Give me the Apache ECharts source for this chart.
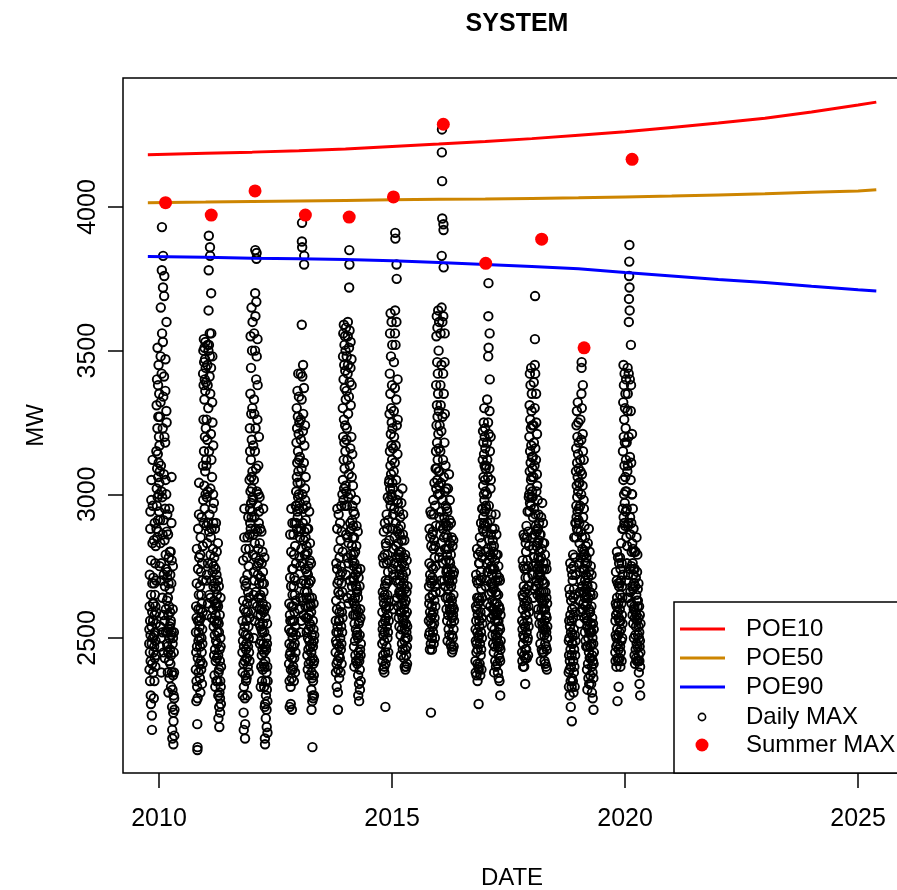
<!DOCTYPE html>
<html>
<head>
<meta charset="utf-8">
<script src="https://cdn.jsdelivr.net/npm/echarts@6/dist/echarts.min.js"></script>
<style>
  html, body { margin: 0; padding: 0; background: #ffffff; }
  #chart { width: 897px; height: 890px; }
</style>
</head>
<body>
<div id="chart"></div>
<script>
// Summer seasons (mid-October of the previous year to end of April)
const seasonYears = [2010, 2011, 2012, 2013, 2014, 2015, 2016, 2017, 2018, 2019, 2020];
const seasonOpen = -0.21;   // years before 1 January
const seasonClose = 0.33;   // years after 1 January

// Daily maximum demand (MW), in date order within each season
const daily2010 = [2480,2530,2390,2610,2720,2450,2350,2560,2880,2940,2510,2420,2300,2270,2650,2770,2980,3050,2540,2480,2230,2180,2410,2590,2690,2830,3120,2960,2620,2500,
  2560,2380,2710,2450,2620,2290,2840,2510,2470,2690,2350,2580,2900,2430,2650,2520,2760,2400,2610,2490,2820,2550,2440,2700,2590,
  3150,2880,3310,3020,2960,3400,3090,2850,3230,3510,2990,3140,2910,3380,3060,3270,2870,3450,3110,3000,3200,2940,3350,3040,3170,
  2750,3080,3270,2910,2540,2470,2830,3320,3480,3650,3100,2760,2500,2380,2700,3010,3420,3780,3930,3560,2990,2640,2520,2860,3230,3530,3720,3830,3340,2910,
  2580,2450,2720,3070,3410,3690,3760,3200,2840,2560,2430,2680,2950,3180,3360,3470,3050,2790,2600,2520,2740,3000,3290,3600,3250,2870,2630,2480,2710,2930,
  2470,2730,2520,2380,2640,2860,2450,2580,2310,2690,2530,2780,2420,2610,2950,2500,2360,2670,2540,2800,2460,2590,2720,2410,2550,
  2800,2560,2440,2330,2510,2690,2900,3060,2770,2520,2380,2260,2180,2150,2320,2480,2600,2750,2500,2370,2240,2130,2210,2300,2450,2520,2380,2290,2160,2250];
const daily2011 = [2390,2520,2610,2450,2280,2350,2570,2690,2810,2470,2330,2200,2110,2120,2290,2430,2560,2740,2880,2600,2490,2380,2520,2650,2930,3040,2780,2560,2410,2500,
  2540,2360,2680,2470,2790,2310,2600,2850,2420,2570,2730,2390,2650,2500,2920,2450,2620,2340,2760,2530,2480,2700,2410,2590,2820,
  3100,3420,2980,3500,3260,3380,2900,3540,3150,3460,3030,3330,3510,2950,3400,3200,3470,3080,3360,3530,3000,3440,3230,3390,3120,
  2700,2890,3100,3260,2990,2720,2580,2830,3190,3450,3520,3380,3010,2760,2620,2900,3300,3500,3640,3780,3900,3520,3150,2870,2650,2930,3410,3560,3480,3860,
  3830,3350,3020,2790,2640,2850,3210,3440,3700,3560,3120,2880,2700,2570,2760,3060,3320,3480,3250,2950,2730,2600,2810,3000,3170,2900,2680,2540,2750,2970,
  2630,2440,2780,2560,2370,2690,2510,2880,2460,2620,2330,2740,2580,2420,2670,2900,2490,2610,2350,2720,2550,2800,2430,2650,2520,
  2620,2480,2350,2560,2700,2830,2610,2440,2300,2220,2380,2550,2680,2520,2390,2260,2190,2310,2460,2580,2420,2290,2240,2350,2500,2640,2470,2330,2270,2400];
const daily2012 = [2450,2560,2380,2300,2490,2630,2770,2520,2410,2240,2180,2330,2470,2600,2850,2950,2700,2540,2420,2290,2150,2200,2370,2510,2680,2810,2590,2460,2350,2430,
  2480,2690,2360,2560,2780,2430,2620,2300,2720,2510,2850,2400,2590,2470,2660,2920,2540,2380,2750,2500,2640,2450,2810,2570,2420,
  3050,2860,3230,2950,3150,2900,3350,3010,3550,2880,3120,3440,2970,3280,3060,3650,2920,3190,3020,3500,2940,3300,3080,3600,2990,
  2620,2790,2980,3170,2860,2650,2500,2730,3050,3330,3560,3280,2920,2700,2560,2830,3150,3500,3700,3850,3620,3230,2880,2660,2780,3090,3400,3670,3820,3840,
  3480,3010,2750,2610,2870,3260,3540,3380,2960,2720,2580,2810,3100,3000,2760,2640,2900,3200,2940,2690,2550,2770,2990,2830,2600,2480,2710,2880,2650,2540,
  2580,2330,2710,2490,2640,2400,2870,2530,2760,2440,2600,2350,2690,2520,2800,2460,2620,2390,2730,2550,2950,2480,2660,2410,2590,
  2690,2450,2330,2520,2780,2600,2400,2260,2150,2130,2270,2420,2570,2470,2350,2220,2300,2460,2610,2500,2380,2250,2190,2320,2480,2550,2400,2280,2170,2350];
const daily2013 = [2410,2530,2620,2480,2350,2260,2440,2580,2710,2860,2560,2450,2330,2270,2390,2520,2680,2800,2950,2610,2470,2360,2250,2430,2560,2740,2900,2650,2500,2390,
  2520,2740,2400,2610,2860,2470,2680,2350,2790,2560,2430,2710,2590,2900,2480,2650,2380,2820,2540,2700,2450,2630,2960,2510,2760,
  3010,2900,3180,2960,3300,3060,2880,3230,3110,2940,3360,3040,2920,3270,3150,2990,3420,3080,2870,3210,3000,3340,3120,2950,3250,
  2600,2780,2970,3130,2850,2640,2520,2750,3040,3260,3420,3190,2880,2690,2560,2810,3090,3330,3590,3880,3945,3860,3410,3000,2760,2630,2900,3220,3450,3280,
  2950,2700,2580,2840,3110,3370,3800,3830,3170,2870,2660,2790,3020,3240,2980,2740,2610,2850,3060,2910,2690,2570,2790,2960,2820,2640,2520,2730,2880,2660,
  2660,2440,2800,2570,2390,2720,2500,2880,2610,2460,2750,2530,2410,2690,2580,2940,2490,2640,2370,2770,2550,2830,2470,2620,2700,
  2700,2540,2420,2610,2760,2590,2450,2320,2250,2380,2510,2640,2480,2360,2280,2120,2300,2430,2560,2470,2350,2290,2410,2530,2620,2490,2370,2300,2420,2510];
const daily2014 = [2450,2560,2380,2490,2630,2760,2520,2410,2330,2480,2600,2740,2880,2950,2690,2540,2420,2310,2250,2390,2520,2660,2810,2930,2700,2560,2440,2360,2470,2590,
  2560,2780,2430,2650,2900,2500,2720,2380,2840,2610,2460,2750,2540,2960,2480,2690,2410,2870,2590,2730,2520,2660,3000,2570,2800,
  3300,3050,3480,3200,3560,2980,3400,3120,3590,3260,3020,3450,3180,3520,3090,3370,2960,3550,3240,3430,3150,3500,3030,3330,3580,
  2720,2860,3010,3190,3360,3480,3230,2960,2780,2640,2850,3120,3420,3550,3600,3450,3280,2990,2760,2620,2830,3070,3340,3510,3720,3850,3800,3570,3390,3100,
  2870,2700,2900,3160,3440,3530,3310,3000,2790,2650,2880,3200,3470,3380,3060,2820,2680,2910,3140,2960,2770,2630,2850,3030,2890,2710,2580,2790,2940,2750,
  2700,2470,2850,2620,2400,2760,2550,2930,2640,2490,2800,2580,2440,2720,2610,2980,2530,2680,2420,2820,2600,2890,2510,2670,2740,
  2660,2520,2410,2580,2730,2870,2640,2500,2370,2300,2450,2590,2710,2550,2430,2340,2280,2420,2560,2680,2510,2390,2320,2460,2600,2740,2570,2440,2350,2480];
const daily2015 = [2480,2590,2420,2530,2660,2780,2550,2440,2390,2510,2640,2760,2870,2620,2490,2400,2380,2520,2650,2790,2900,2680,2560,2450,2260,2410,2570,2700,2830,2610,
  2600,2820,2470,2690,2930,2540,2760,2430,2880,2650,2500,2790,2580,2990,2520,2730,2450,2910,2630,2770,2560,2700,3040,2610,2840,
  3050,3280,2980,3420,3150,3560,3020,3350,3100,3630,2960,3210,3480,3070,3300,3000,3170,3600,3250,2990,3380,3120,3520,3040,3230,
  2740,2880,3020,3160,2930,2720,2600,2810,3080,3290,3460,3200,2950,2760,2630,2850,3110,3370,3560,3640,3910,3890,3520,3170,2900,2700,2820,3050,3330,3600,
  3800,3750,3240,2980,2780,2640,2870,3140,3400,3260,2970,2750,2610,2830,3000,2880,2690,2570,2790,2940,2800,2660,2540,2720,2860,2700,2590,2780,2920,2650,
  2740,2510,2890,2660,2440,2800,2590,2970,2680,2530,2840,2620,2480,2760,2650,3020,2570,2720,2460,2860,2640,2930,2550,2710,2780,
  2690,2560,2430,2600,2750,2840,2620,2490,2400,2530,2670,2790,2580,2460,2390,2500,2630,2730,2550,2440,2400,2520,2660,2770,2590,2470,2410,2540,2680,2500];
const daily2016 = [2560,2680,2510,2620,2760,2880,2640,2520,2460,2590,2720,2850,2940,2700,2570,2480,2240,2550,2690,2820,2930,2750,2610,2500,2460,2580,2710,2860,2650,2540,
  2650,2870,2520,2740,2980,2590,2810,2480,2930,2700,2550,2840,2630,3040,2570,2780,2500,2960,2680,2820,2610,2750,3090,2660,2890,
  3150,3380,3020,3550,3240,3090,3620,3310,3180,3460,3050,3580,3270,3120,3420,3000,3350,3640,3210,3080,3500,3160,3290,3030,3600,
  2780,2920,3080,3240,3000,2800,2660,2890,3150,3380,3560,3310,3040,2830,2700,2940,3220,3450,3650,3830,4190,4270,4090,3960,3600,3270,2980,2760,2880,3120,
  3420,3620,3940,3920,3790,3350,3060,2850,2700,2920,3180,3460,3560,3280,3010,2810,2680,2900,3100,2960,2770,2640,2860,3020,2890,2730,2600,2810,2950,2740,
  2790,2560,2940,2710,2490,2850,2640,3020,2730,2580,2890,2670,2530,2810,2700,3070,2620,2770,2510,2910,2690,2980,2600,2760,2830,
  2720,2590,2480,2640,2790,2900,2680,2550,2470,2600,2740,2850,2630,2510,2450,2570,2700,2820,2610,2500,2460,2580,2720,2840,2650,2530,2470,2600,2730,2560];
const daily2017 = [2420,2530,2380,2490,2610,2720,2560,2450,2370,2480,2600,2700,2810,2640,2520,2410,2350,2460,2580,2690,2790,2620,2500,2400,2270,2390,2510,2640,2760,2560,
  2540,2760,2410,2630,2850,2480,2700,2370,2800,2590,2440,2730,2520,2900,2460,2670,2390,2830,2570,2710,2500,2640,2950,2550,2780,
  2950,3120,2880,3220,3030,2920,3180,3060,2870,3250,3000,3140,2900,3300,2980,3100,3200,2940,3050,3230,2890,3160,3010,3090,2960,
  2680,2800,2950,3100,2870,2700,2590,2760,3000,3180,3330,3120,2900,2730,2620,2810,3060,3250,3480,3620,3735,3510,3210,2960,2770,2650,2840,3090,3290,3560,
  3400,3150,2910,2740,2610,2790,3020,3200,3050,2860,2690,2570,2750,2930,2820,2660,2540,2720,2880,2780,2630,2510,2690,2840,2740,2600,2480,2670,2800,2580,
  2680,2450,2820,2600,2380,2740,2530,2880,2620,2470,2770,2560,2420,2700,2590,2930,2510,2660,2400,2790,2580,2860,2490,2650,2720,
  2620,2500,2410,2560,2700,2790,2590,2470,2380,2520,2650,2750,2560,2440,2360,2480,2610,2710,2540,2430,2350,2470,2600,2700,2530,2420,2300,2460,2580,2490];
const daily2018 = [2450,2560,2420,2530,2650,2770,2600,2480,2400,2510,2640,2750,2860,2680,2550,2440,2400,2500,2620,2740,2850,2660,2540,2430,2340,2460,2580,2710,2830,2610,
  2580,2800,2460,2670,2890,2520,2740,2430,2850,2630,2490,2770,2560,2940,2500,2710,2440,2870,2610,2750,2540,2680,2990,2590,2820,
  3000,3200,2940,3310,3080,3420,2970,3150,3260,3020,3380,3110,2960,3230,3050,3440,3170,2990,3290,3060,3350,3130,3010,3240,3090,
  2720,2850,2990,3130,2920,2750,2640,2810,3060,3240,3390,3180,2950,2780,2670,2860,3100,3300,3450,3540,3690,3420,3160,2930,2760,2680,2890,3120,3350,3250,
  3010,2820,2700,2870,3070,3210,3030,2880,2740,2650,2830,2980,2880,2720,2600,2780,2930,2840,2690,2580,2750,2900,2800,2660,2550,2730,2860,2770,2640,2710,
  2720,2480,2860,2640,2420,2780,2570,2920,2660,2510,2810,2600,2460,2740,2630,2970,2550,2700,2450,2830,2620,2900,2530,2690,2760,
  2660,2540,2450,2600,2740,2830,2630,2510,2420,2560,2690,2790,2600,2480,2410,2530,2660,2760,2580,2470,2400,2520,2640,2740,2570,2460,2390,2500,2620,2540];
const daily2019 = [2380,2490,2330,2440,2560,2670,2500,2390,2300,2420,2540,2650,2760,2580,2460,2350,2260,2400,2520,2630,2740,2560,2440,2330,2210,2360,2480,2600,2720,2510,
  2480,2700,2350,2570,2790,2420,2640,2310,2750,2530,2380,2670,2460,2850,2400,2610,2330,2780,2510,2650,2440,2590,2900,2490,2720,
  2900,3080,2850,3160,2960,3240,2920,3030,3290,2880,3110,2990,3200,2940,3060,3320,2870,3140,3010,3250,2910,3090,3180,2950,3040,
  2630,2760,2900,3040,2830,2660,2550,2730,2960,3120,3260,3080,2870,2700,2590,2780,3000,3190,3350,3440,3460,3300,3070,2850,2680,2600,2810,3030,3210,3380,
  3150,2920,2740,2620,2790,2980,3120,2950,2800,2660,2570,2740,2890,2790,2640,2520,2700,2850,2760,2610,2490,2670,2820,2720,2580,2470,2650,2780,2690,2560,
  2620,2390,2760,2540,2320,2680,2470,2830,2560,2410,2710,2500,2360,2640,2530,2880,2450,2600,2340,2730,2520,2800,2430,2590,2660,
  2590,2470,2370,2520,2650,2750,2550,2430,2340,2480,2610,2720,2520,2400,2310,2440,2570,2680,2500,2380,2290,2420,2550,2650,2480,2360,2250,2410,2530,2450];
const daily2020 = [2450,2560,2420,2510,2620,2730,2580,2470,2400,2500,2610,2700,2800,2640,2530,2430,2280,2480,2590,2690,2780,2620,2510,2420,2330,2460,2570,2680,2760,2560,
  2520,2690,2430,2600,2780,2470,2650,2400,2740,2560,2450,2700,2530,2830,2490,2620,2420,2760,2580,2680,2500,2640,2880,2550,2720,
  2950,3150,2880,3320,3050,3450,2920,3200,3380,3000,3260,2900,3100,3420,2970,3180,3300,2890,3060,3350,3010,3230,2940,3120,3400,
  2700,2850,3010,3180,2950,2760,2640,2820,3080,3290,3440,3350,3100,2890,2720,2640,2900,3200,3420,3600,3680,3760,3810,3868,3720,3640,3400,3130,2920,2740,
  2660,2860,3050,3290,3520,3380,3110,2900,2750,2620,2800,3000,3210,3000,2830,2680,2580,2760,2950,2810,2670,2550,2720,2880,2740,2600,2500,2690,2800,2610,
  2600,2440,2740,2570,2410,2680,2510,2800,2590,2460,2710,2540,2430,2650,2580,2850,2480,2630,2420,2730,2560,2790,2470,2610,2670,
  2630,2510,2420,2570,2690,2540,2440,2380,2500,2610,2520,2420,2340,2470,2580,2490,2400,2300,2450,2550];
const dailyBySeason = [daily2010, daily2011, daily2012, daily2013, daily2014, daily2015,
  daily2016, daily2017, daily2018, daily2019, daily2020];

// Highest demand of each summer
const summerMaxDates = [2010.14, 2011.12, 2012.06, 2013.14, 2014.08, 2015.03, 2016.10, 2017.01, 2018.21, 2019.12, 2020.15];
const summerMaxMW = [4015, 3972, 4056, 3972, 3965, 4035, 4288, 3804, 3888, 3510, 4166];

// Probability-of-exceedance forecasts
const forecastDates = [2009.76, 2011, 2012, 2013, 2014, 2015, 2016, 2017, 2018, 2019, 2020, 2021, 2022, 2023, 2024, 2025, 2025.39];
const poe10 = [4182, 4187, 4191, 4196, 4202, 4211, 4219, 4228, 4238, 4250, 4262, 4277, 4292, 4309, 4331, 4355, 4365];
const poe50 = [4015, 4017, 4019, 4021, 4023, 4025, 4027, 4028, 4030, 4032, 4035, 4038, 4042, 4046, 4051, 4056, 4060];
const poe90 = [3828, 3825, 3822, 3820, 3817, 3813, 3807, 3800, 3793, 3785, 3772, 3760, 3748, 3737, 3724, 3712, 3708];

const xTicks = [2010, 2015, 2020, 2025];
const yTicks = [2500, 3000, 3500, 4000];

const FONT = '"Liberation Sans", Arial, sans-serif';
const RED = '#ff0000', ORANGE = '#cd8500', BLUE = '#0000ff';

// Build [date, MW] pairs for the daily readings
const dailyPoints = [];
seasonYears.forEach((yr, s) => {
  const vals = dailyBySeason[s];
  const start = yr + seasonOpen, span = seasonClose - seasonOpen;
  vals.forEach((v, i) => dailyPoints.push([start + span * i / (vals.length - 1), v]));
});
const pairs = (xs, ys) => xs.map((x, i) => [x, ys[i]]);

const chart = echarts.init(document.getElementById('chart'), null, { renderer: 'canvas' });

const legendRows = [629, 658, 687, 717, 745];
const legendText = ['POE10', 'POE50', 'POE90', 'Daily MAX', 'Summer MAX'];

chart.setOption({
  animation: false,
  backgroundColor: '#ffffff',
  title: {
    text: 'SYSTEM',
    left: 512,
    top: 7,
    textAlign: 'center',
    textStyle: { fontFamily: FONT, fontWeight: 'bold', fontSize: 25, color: '#000' }
  },
  grid: {
    left: 123, top: 78, width: 778, height: 695,
    outerBoundsMode: 'none',
    show: true, borderColor: '#000', borderWidth: 1.5, backgroundColor: 'transparent'
  },
  xAxis: {
    type: 'value', min: 2009.227, max: 2025.92,
    name: 'DATE', nameLocation: 'middle', nameGap: 93,
    nameTextStyle: { fontFamily: FONT, fontSize: 24, color: '#000' },
    axisLine: { show: false },
    splitLine: { show: false },
    axisTick: { show: true, customValues: xTicks, length: 15, lineStyle: { color: '#000', width: 1.5 } },
    axisLabel: { customValues: xTicks, fontFamily: FONT, fontSize: 25, color: '#000', margin: 34,
      formatter: v => String(v) }
  },
  yAxis: {
    type: 'value', min: 2030, max: 4449,
    name: 'MW', nameLocation: 'middle', nameGap: 75,
    nameTextStyle: { fontFamily: FONT, fontSize: 24, color: '#000' },
    axisLine: { show: false },
    splitLine: { show: false },
    axisTick: { show: true, customValues: yTicks, length: 15, lineStyle: { color: '#000', width: 1.5 } },
    axisLabel: { customValues: yTicks, rotate: 90, fontFamily: FONT, fontSize: 25, color: '#000', margin: 22,
      formatter: v => String(v) }
  },
  series: [
    {
      name: 'Daily MAX', type: 'scatter', z: 2,
      symbol: 'circle', symbolSize: 8.5,
      itemStyle: { color: 'rgba(0,0,0,0)', borderColor: '#000', borderWidth: 1.9, opacity: 1 },
      emphasis: { disabled: true },
      data: dailyPoints
    },
    {
      name: 'POE10', type: 'line', z: 3, symbol: 'none',
      lineStyle: { color: RED, width: 3 }, data: pairs(forecastDates, poe10)
    },
    {
      name: 'POE50', type: 'line', z: 3, symbol: 'none',
      lineStyle: { color: ORANGE, width: 3 }, data: pairs(forecastDates, poe50)
    },
    {
      name: 'POE90', type: 'line', z: 3, symbol: 'none',
      lineStyle: { color: BLUE, width: 3 }, data: pairs(forecastDates, poe90)
    },
    {
      name: 'Summer MAX', type: 'scatter', z: 4,
      symbol: 'circle', symbolSize: 13,
      itemStyle: { color: RED, opacity: 1 },
      data: pairs(summerMaxDates, summerMaxMW)
    }
  ],
  graphic: [
    { type: 'rect', z: 10, shape: { x: 674, y: 602, width: 260, height: 171 },
      style: { fill: '#fff', stroke: '#000', lineWidth: 1.5 } },
    { type: 'line', z: 11, shape: { x1: 680, y1: legendRows[0], x2: 725, y2: legendRows[0] }, style: { stroke: RED, lineWidth: 3 } },
    { type: 'line', z: 11, shape: { x1: 680, y1: legendRows[1], x2: 725, y2: legendRows[1] }, style: { stroke: ORANGE, lineWidth: 3 } },
    { type: 'line', z: 11, shape: { x1: 680, y1: legendRows[2], x2: 725, y2: legendRows[2] }, style: { stroke: BLUE, lineWidth: 3 } },
    { type: 'circle', z: 11, shape: { cx: 702, cy: legendRows[3], r: 3.6 }, style: { fill: 'none', stroke: '#000', lineWidth: 1.6 } },
    { type: 'circle', z: 11, shape: { cx: 702, cy: legendRows[4], r: 6.5 }, style: { fill: RED } }
  ].concat(legendText.map((t, i) => ({
    type: 'text', z: 11, x: 746, y: legendRows[i],
    style: { text: t, fontFamily: FONT, fontSize: 24, fill: '#000', verticalAlign: 'middle', align: 'left' }
  })))
});
</script>
</body>
</html>
